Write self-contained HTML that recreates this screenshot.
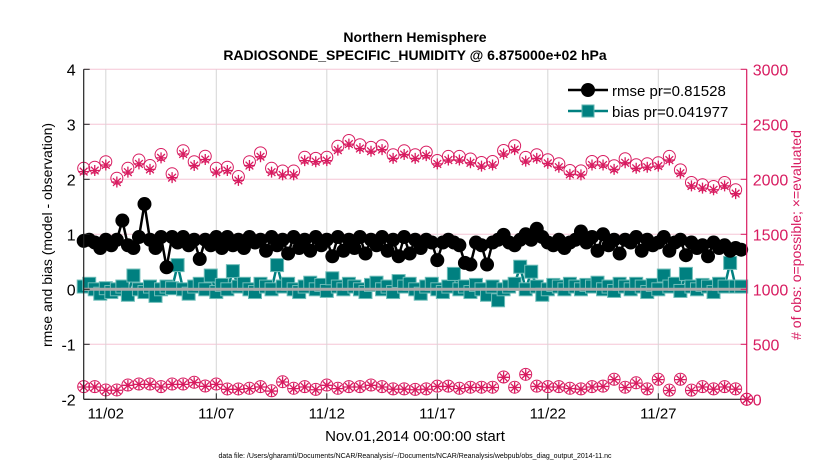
<!DOCTYPE html>
<html><head><meta charset="utf-8">
<style>
body{margin:0;background:#fff;width:830px;height:470px;overflow:hidden;font-family:"Liberation Sans",sans-serif}
</style></head>
<body>
<svg id="chart" width="830" height="470" xmlns="http://www.w3.org/2000/svg" font-family="Liberation Sans, sans-serif">
<text x="415" y="42" text-anchor="middle" font-size="14" font-weight="bold">Northern Hemisphere</text>
<text x="415" y="60" text-anchor="middle" font-size="14" font-weight="bold">RADIOSONDE_SPECIFIC_HUMIDITY @ 6.875000e+02 hPa</text>
<g id="grid"></g>
<g id="marks"></g>
<g id="axes"></g>
<text transform="translate(52,235) rotate(-90)" text-anchor="middle" font-size="14">rmse and bias (model - observation)</text>
<text transform="translate(801,235) rotate(-90)" text-anchor="middle" font-size="14" fill="#d81b60"># of obs: o=possible; ×=evaluated</text>
<text x="415" y="441" text-anchor="middle" font-size="15">Nov.01,2014 00:00:00 start</text>
<text x="415" y="458" text-anchor="middle" font-size="7">data file: /Users/gharamti/Documents/NCAR/Reanalysis/~/Documents/NCAR/Reanalysis/webpub/obs_diag_output_2014-11.nc</text>
<g>
<line x1="568" y1="90" x2="608" y2="90" stroke="#000" stroke-width="2.5"/>
<circle cx="588" cy="90" r="7" fill="#000"/>
<text x="612" y="96" font-size="15">rmse pr=0.81528</text>
<line x1="568" y1="111" x2="608" y2="111" stroke="#008080" stroke-width="2.5"/>
<rect x="582" y="105" width="12" height="12" fill="#008080" stroke="#5fb5b0"/>
<text x="612" y="117" font-size="15">bias pr=0.041977</text>
</g>
</svg>
<script>
const rmse=[0.88,0.9,0.85,0.75,0.9,0.8,0.9,1.25,0.8,0.75,
0.95,1.55,0.9,0.75,0.95,0.4,0.95,0.85,0.95,0.8,
0.9,0.55,0.9,0.8,0.95,0.75,0.95,0.8,0.9,0.75,
0.95,0.85,0.9,0.7,0.95,0.8,0.9,0.65,0.95,0.75,
0.9,0.7,0.95,0.8,0.9,0.6,0.95,0.7,0.9,0.75,
0.95,0.65,0.9,0.8,0.95,0.7,0.9,0.6,0.95,0.65,
0.9,0.75,0.9,0.85,0.53,0.85,0.9,0.85,0.8,0.48,
0.45,0.85,0.8,0.45,0.85,0.9,0.99,0.85,0.8,0.9,
1.0,0.9,1.1,0.95,0.85,0.8,0.9,0.75,0.85,0.9,
1.05,0.85,0.95,0.7,1.0,0.8,0.9,0.65,0.9,0.85,
0.95,0.7,0.9,0.8,0.85,0.95,0.7,0.85,0.9,0.62,
0.85,0.75,0.8,0.6,0.85,0.75,0.8,0.7,0.75,0.72];
const bias=[0.05,0.1,0.0,-0.08,0.02,-0.05,0.0,0.05,-0.1,0.25,
0.0,-0.05,0.05,-0.12,0.0,0.05,0.02,0.44,0.0,-0.08,
0.05,0.1,0.0,0.25,-0.05,0.08,0.0,0.33,0.05,0.1,
0.0,-0.05,0.1,0.05,0.0,0.44,0.05,0.1,0.0,-0.05,
0.05,0.12,0.0,0.08,-0.03,0.2,0.05,0.0,0.1,0.05,
0.0,-0.05,0.08,0.12,0.0,0.05,-0.05,0.15,0.05,0.1,
0.0,-0.08,0.05,0.1,0.0,-0.05,0.05,0.28,0.0,0.05,
-0.05,0.08,0.0,-0.1,0.05,-0.2,0.0,0.05,0.1,0.41,
0.0,0.32,0.05,-0.1,0.0,0.08,0.05,0.0,0.1,0.05,
0.0,0.08,0.05,0.12,0.0,0.05,-0.03,0.1,0.05,0.0,
0.1,0.05,-0.05,0.08,0.0,0.25,0.05,0.1,-0.03,0.28,
0.05,0.0,0.08,0.05,-0.05,0.1,0.05,0.48,0.05,0.05];
const possibleTop=[2100,2110,2160,2010,2100,2175,2125,2225,2050,2260,2160,2210,2100,2110,2025,2160,2240,2100,2075,2075,2200,2190,2200,2300,
2353,2314,2290,2305,2223,2259,2223,2247,2171,2208,2208,2184,2153,2162,2262,2305,2199,2223,2178,2141,2080,2077,2162,2162,2123,2187,2132,2141,2150,2208,2086,1971,1950,1935,1971,1905,0];
const evaluatedTop=[2070,2080,2130,1975,2065,2140,2090,2195,2015,2230,2125,2180,2065,2080,1990,2125,2205,2065,2040,2040,2170,2160,2170,2265,
2320,2280,2255,2270,2190,2225,2190,2215,2140,2175,2175,2150,2120,2130,2230,2270,2165,2190,2145,2110,2045,2040,2130,2130,2090,2150,2100,2110,2120,2175,2055,1940,1920,1905,1940,1870,0];
const possibleBottom=[115,115,85,85,130,139,139,115,139,139,155,121,139,94,94,
100,115,78,160,100,115,90,130,100,115,115,130,115,95,95,
90,95,120,120,100,110,110,110,203,110,227,120,115,115,100,
95,115,120,182,110,150,95,182,83,182,83,115,95,115,95,0];
const evaluatedBottom=[112,112,82,82,127,136,136,112,136,136,152,118,136,91,91,
97,112,75,157,97,112,87,127,97,112,112,127,112,92,92,
87,92,117,117,97,107,107,107,200,107,224,117,112,112,97,
92,112,117,179,107,147,92,179,80,179,80,112,92,112,92,0];
const leftTicks=[4,3,2,1,0,-1,-2];
const rightTicks=[3000,2500,2000,1500,1000,500,0];
const xTickDays=[1,6,11,16,21,26];
const xTickLabels=["11/02","11/07","11/12","11/17","11/22","11/27"];

const L=83.7,R=746.7,T=69.3,B=399.3;
const xS=d=>L+(R-L)*d/30;
const yL=v=>B-(B-T)*(v+2)/6;
const yR=c=>B-(B-T)*c/3000;
const NS="http://www.w3.org/2000/svg";
function mk(tag,attrs,parent){const e=document.createElementNS(NS,tag);for(const k in attrs)e.setAttribute(k,attrs[k]);parent.appendChild(e);return e;}
const grid=document.getElementById('grid'),marks=document.getElementById('marks'),axes=document.getElementById('axes');
const PINK="#d81b60";
mk('rect',{x:L,y:T,width:R-L,height:B-T,fill:'#fff'},grid);
rightTicks.forEach(c=>{const g=mk('line',{x1:L,x2:R,y1:yR(c),y2:yR(c),stroke:'#f5c6d6','stroke-width':1},grid);});
xTickDays.forEach(d=>{const g=mk('line',{x1:xS(d),x2:xS(d),y1:T,y2:B,stroke:'#d6d6d6','stroke-width':1},grid);});
function drawCounts(poss,evals,name){
 poss.forEach((c,i)=>{const x=xS(i*0.5),y=yR(c);
  const ci=mk('circle',{cx:x,cy:y,r:6,fill:'none',stroke:PINK,'stroke-width':1},marks);
  });
 evals.forEach((c,i)=>{const x=xS(i*0.5),y=yR(c),s=5.5;
  const g=mk('path',{d:`M${x-s},${y}H${x+s}M${x},${y-s}V${y+s}M${x-s*0.7},${y-s*0.7}L${x+s*0.7},${y+s*0.7}M${x-s*0.7},${y+s*0.7}L${x+s*0.7},${y-s*0.7}`,stroke:PINK,'stroke-width':1.3,fill:'none'},marks);
  });
}
drawCounts(possibleTop,evaluatedTop,'count-top');
drawCounts(possibleBottom,evaluatedBottom,'count-bottom');
const bl=mk('polyline',{points:bias.map((v,i)=>xS(i*0.25)+','+yL(v)).join(' '),fill:'none',stroke:'#008080','stroke-width':2.5},marks);

bias.forEach((v,i)=>{const r=mk('rect',{x:xS(i*0.25)-6.5,y:yL(v)-6.5,width:13,height:13,fill:'#008080',stroke:'#6fbdb8','stroke-width':1},marks);
 });
const z=mk('line',{x1:L,x2:R,y1:yL(0),y2:yL(0),stroke:'#aaaaaa','stroke-width':3},marks);

const rl=mk('polyline',{points:rmse.map((v,i)=>xS(i*0.25)+','+yL(v)).join(' '),fill:'none',stroke:'#000','stroke-width':2.5},marks);

rmse.forEach((v,i)=>{const c=mk('circle',{cx:xS(i*0.25),cy:yL(v),r:7,fill:'#000'},marks);
 });
mk('line',{x1:L,x2:L,y1:T,y2:B,stroke:'#222','stroke-width':1.2},axes);
mk('line',{x1:L,x2:R,y1:B,y2:B,stroke:'#222','stroke-width':1.2},axes);
mk('line',{x1:R,x2:R,y1:T,y2:B,stroke:PINK,'stroke-width':1.2},axes);
leftTicks.forEach(v=>{mk('line',{x1:L,x2:L+6,y1:yL(v),y2:yL(v),stroke:'#222'},axes);
 const t=mk('text',{x:L-8,y:yL(v)+6,'text-anchor':'end','font-size':16},axes);t.textContent=v;
 });
rightTicks.forEach(c=>{mk('line',{x1:R-6,x2:R,y1:yR(c),y2:yR(c),stroke:PINK},axes);
 const t=mk('text',{x:R+6,y:yR(c)+6,'font-size':16,fill:PINK},axes);t.textContent=c;
 });
xTickDays.forEach((d,i)=>{mk('line',{x1:xS(d),x2:xS(d),y1:B-6,y2:B,stroke:'#222'},axes);
 const t=mk('text',{x:xS(d),y:B+19,'text-anchor':'middle','font-size':15},axes);t.textContent=xTickLabels[i];
 });
</script>
</body></html>
